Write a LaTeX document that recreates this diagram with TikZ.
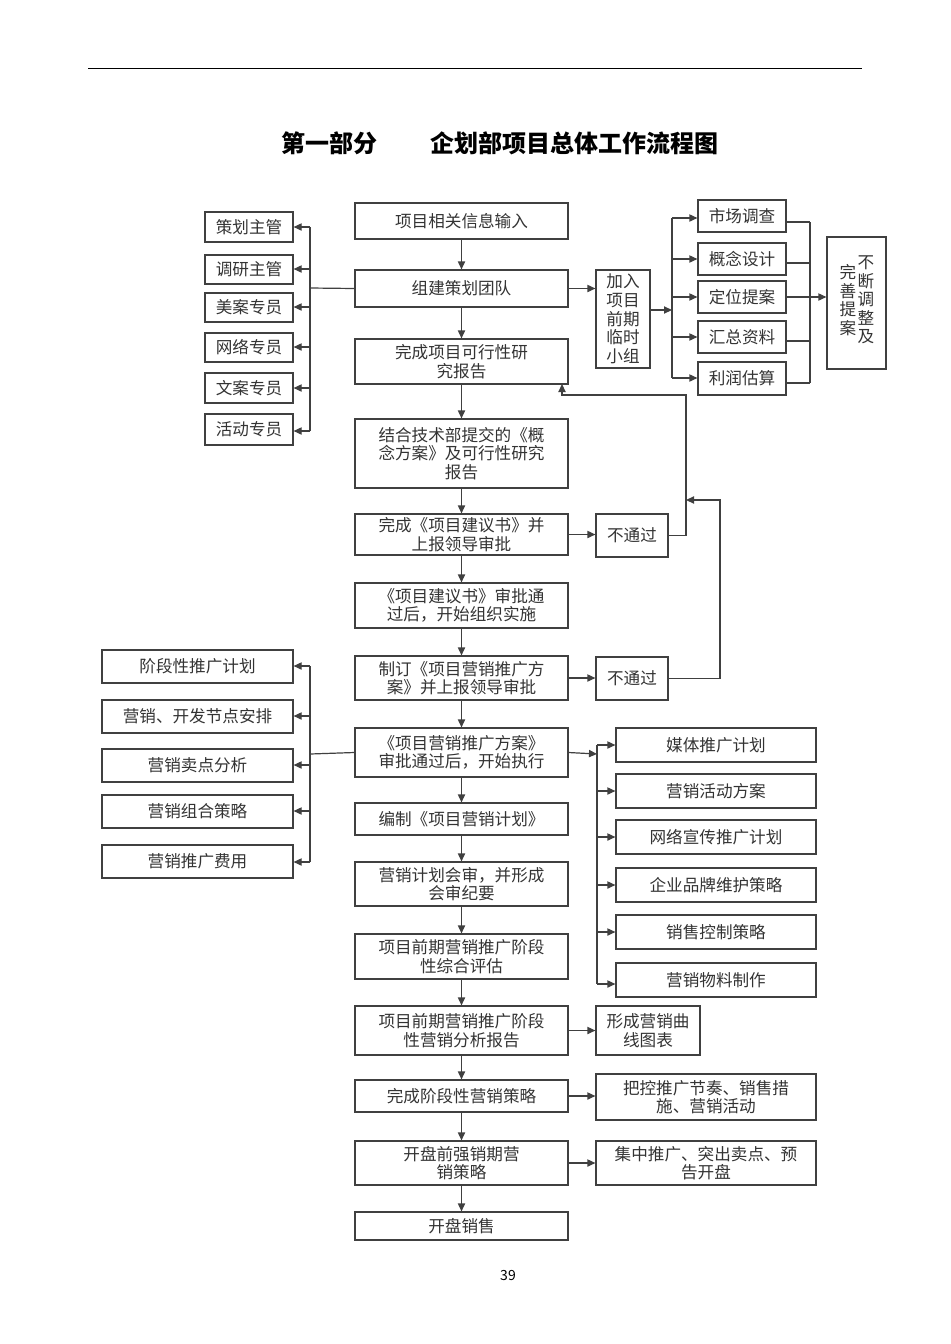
\documentclass[tikz,border=0pt]{standalone}
\usepackage{fontspec}
\setmainfont{Noto Sans CJK SC}
\usetikzlibrary{arrows.meta}
\newcommand\mybox[6]{\node[box,minimum width={(#4-#2)*0.5pt},minimum height={(#5-#3)*0.5pt}] (#1) at ({(#2+#4)/2},{(#3+#5)/2}) {#6};}
\begin{document}
\begin{tikzpicture}[x=0.5pt,y=-0.5pt,
 box/.style={draw=black!75,line width=0.6pt,inner sep=1pt,align=center,font=\fontsize{8.3}{9.3}\selectfont,text=black!80},
 ln/.style={draw=black!75,line width=0.6pt},
 ar/.style={ln,-{Triangle[length=4pt,width=3.6pt]}}]
\useasboundingbox (0,0) rectangle (950,1344);
\fill[white] (0,0) rectangle (950,1344);
\draw[line width=0.5pt] (88,68) -- (862,68);
\node[font=\fontsize{12}{14}\selectfont\bfseries] (title) at (500,143) {第一部分\hspace{2.2em}企划部项目总体工作流程图};
\node[font=\fontsize{7}{8}\selectfont] (pg) at (508,1275) {39};
% main column
\mybox{m1}{355}{203}{568}{239}{项目相关信息输入}
\mybox{m2}{355}{270}{568}{307}{组建策划团队}
\mybox{m3}{355}{339}{568}{384}{完成项目可行性研\\究报告}
\mybox{m4}{355}{419}{568}{488}{结合技术部提交的《概\\念方案》及可行性研究\\报告}
\mybox{m5}{355}{514}{568}{555}{完成《项目建议书》并\\上报领导审批}
\mybox{m6}{355}{583}{568}{628}{《项目建议书》审批通\\过后，开始组织实施}
\mybox{m7}{355}{656}{568}{700}{制订《项目营销推广方\\案》并上报领导审批}
\mybox{m8}{355}{728}{568}{777}{《项目营销推广方案》\\审批通过后，开始执行}
\mybox{m9}{355}{803}{568}{835}{编制《项目营销计划》}
\mybox{m10}{355}{862}{568}{906}{营销计划会审，并形成\\会审纪要}
\mybox{m11}{355}{934}{568}{979}{项目前期营销推广阶段\\性综合评估}
\mybox{m12}{355}{1006}{568}{1055}{项目前期营销推广阶段\\性营销分析报告}
\mybox{m13}{355}{1080}{568}{1112}{完成阶段性营销策略}
\mybox{m14}{355}{1141}{568}{1185}{开盘前强销期营\\销策略}
\mybox{m15}{355}{1212}{568}{1240}{开盘销售}
\foreach \a/\b in {m1/m2,m2/m3,m3/m4,m4/m5,m5/m6,m6/m7,m7/m8,m8/m9,m9/m10,m10/m11,m11/m12,m12/m13,m13/m14,m14/m15}
  \draw[ar] (\a) -- (\b);
% left top
\mybox{l1}{205}{212}{293}{242}{策划主管}
\mybox{l2}{205}{255}{293}{284}{调研主管}
\mybox{l3}{205}{293}{293}{322}{美案专员}
\mybox{l4}{205}{333}{293}{362}{网络专员}
\mybox{l5}{205}{373}{293}{403}{文案专员}
\mybox{l6}{205}{414}{293}{445}{活动专员}
\coordinate (lt) at (310,288);
\draw[ln] (m2.west) -- (lt);
\draw[ln] (310,227) -- (310,431);
\foreach \n/\y in {l1/227,l2/269,l3/307,l4/347,l5/388,l6/431}
  \draw[ar] (310,\y) -- (\n.east |- 0,\y);
% group box
\mybox{g}{596}{270}{650}{368}{加入\\项目\\前期\\临时\\小组}
\draw[ar] (m2.east) -- (m2.east -| g.west);
\mybox{r1}{698}{200}{786}{232}{市场调查}
\mybox{r2}{698}{243}{786}{275}{概念设计}
\mybox{r3}{698}{281}{786}{313}{定位提案}
\mybox{r4}{698}{321}{786}{353}{汇总资料}
\mybox{r5}{698}{362}{786}{395}{利润估算}
\coordinate (gj) at (672,310);
\draw[ar] (g.east |- gj) -- (gj);
\draw[ln] (672,218) -- (672,378);
\foreach \n/\y in {r1/218,r2/259,r3/297,r4/337,r5/378}
  \draw[ar] (672,\y) -- (\n.west |- 0,\y);
\draw[ln] (810,222) -- (810,383);
\foreach \n/\y in {r1/222,r2/263,r4/341,r5/383}
  \draw[ln] (\n.east |- 0,\y) -- (810,\y);
\mybox{tz}{827}{237}{886}{369}{}
\node[font=\fontsize{8.3}{9.3}\selectfont,text=black!80,align=center] (tz1) at (866,300) {不\\断\\调\\整\\及};
\node[font=\fontsize{8.3}{9.3}\selectfont,text=black!80,align=center] (tz2) at (848,300) {完\\善\\提\\案};
\draw[ar] (r3.east) -- (tz.west |- r3.east);
% fail loops
\mybox{f1}{596}{514}{668}{557}{不通过}
\mybox{f2}{596}{657}{668}{700}{不通过}
\draw[ar] (m5.east) -- (m5.east -| f1.west);
\draw[ar] (m7.east) -- (m7.east -| f2.west);
\coordinate (c1) at (562,384);
\draw[ar] (f1.east) -| (686,395) -| (c1);
\coordinate (c2) at (686,500);
\draw[ar] (f2.east) -| (720,500) -- (c2);
% left bottom
\mybox{b1}{102}{650}{293}{683}{阶段性推广计划}
\mybox{b2}{102}{700}{293}{733}{营销、开发节点安排}
\mybox{b3}{102}{749}{293}{782}{营销卖点分析}
\mybox{b4}{102}{795}{293}{828}{营销组合策略}
\mybox{b5}{102}{845}{293}{878}{营销推广费用}
\draw[ln] (m8.west) -- (310,754);
\draw[ln] (310,666) -- (310,862);
\foreach \n/\y in {b1/666,b2/716,b3/765,b4/811,b5/862}
  \draw[ar] (310,\y) -- (\n.east |- 0,\y);
% right bottom
\mybox{s1}{616}{728}{816}{762}{媒体推广计划}
\mybox{s2}{616}{774}{816}{808}{营销活动方案}
\mybox{s3}{616}{820}{816}{854}{网络宣传推广计划}
\mybox{s4}{616}{868}{816}{902}{企业品牌维护策略}
\mybox{s5}{616}{915}{816}{949}{销售控制策略}
\mybox{s6}{616}{963}{816}{997}{营销物料制作}
\coordinate (sj) at (597,754);
\draw[ar] (m8.east) -- (sj);
\draw[ln] (597,745) -- (597,984);
\foreach \n/\y in {s1/745,s2/791,s3/837,s4/885,s5/932,s6/984}
  \draw[ar] (597,\y) -- (\n.west |- 0,\y);
% bottom right
\mybox{t1}{596}{1006}{700}{1055}{形成营销曲\\线图表}
\mybox{t2}{596}{1074}{816}{1120}{把控推广节奏、销售措\\施、营销活动}
\mybox{t3}{596}{1141}{816}{1185}{集中推广、突出卖点、预\\告开盘}
\draw[ar] (m12.east) -- (m12.east -| t1.west);
\draw[ar] (m13.east) -- (m13.east -| t2.west);
\draw[ar] (m14.east) -- (m14.east -| t3.west);
\end{tikzpicture}
\end{document}
